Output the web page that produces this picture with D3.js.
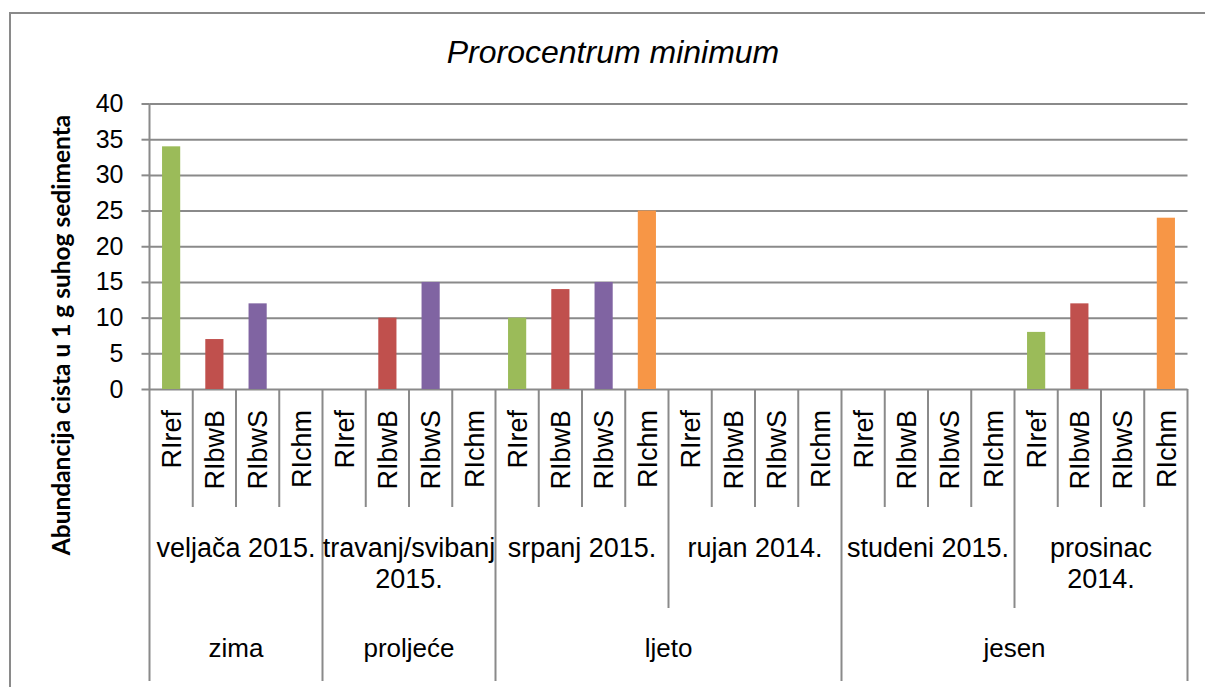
<!DOCTYPE html>
<html>
<head>
<meta charset="utf-8">
<script src="https://cdn.jsdelivr.net/npm/d3@7"></script>
<style>
  body { margin: 0; background: #fff; }
  text { font-family: Arial, "Liberation Sans", sans-serif; fill: #000; }
</style>
</head>
<body>
<svg id="chart" width="1205" height="687"></svg>
<script>
(function() {
    'use strict'

    const title = 'Prorocentrum minimum';
    const yTitle = 'Abundancija cista u 1 g suhog sedimenta';
    const stations = ['RIref', 'RIbwB', 'RIbwS', 'RIchm'];
    const colors = ['#9BBB59', '#C0504D', '#8064A2', '#F79646'];
    // month labels, already split the way the axis wraps them
    const months = [['veljača 2015.'], ['travanj/svibanj', '2015.'], ['srpanj 2015.'],
        ['rujan 2014.'], ['studeni 2015.'], ['prosinac', '2014.']];
    const seasons = ['zima', 'proljeće', 'ljeto', 'jesen'];
    const monthsPerSeason = [1, 1, 2, 2];
    // one row per month, one value per station (RIref, RIbwB, RIbwS, RIchm)
    const values = [
        [34, 7, 12, 0],
        [0, 10, 15, 0],
        [10, 14, 15, 25],
        [0, 0, 0, 0],
        [0, 0, 0, 0],
        [8, 12, 0, 24]
    ];
    const yTicks = [0, 5, 10, 15, 20, 25, 30, 35, 40];

    const svg = d3.select('#chart'),
        margin = { top: 103.5, left: 149.5, right: 1187.5, bottom: 389 },
        width = margin.right - margin.left,
        height = margin.bottom - margin.top,
        grey = '#8a8a8a';

    // flat list of bars
    let bars = [];
    months.forEach((m, mi) => {
        stations.forEach((s, si) => {
            bars.push({ key: mi + '_' + s, station: s, si: si, value: values[mi][si] });
        });
    });

    const x = d3.scaleBand()
        .domain(bars.map((d) => d.key))
        .range([0, width])
        .paddingInner(0.58)
        .paddingOuter(0.29);
    const y = d3.scaleLinear().domain([0, 40]).range([height, 0]);
    const step = x.step();

    // outer chart border
    svg.append('rect')
        .attr('x', 10).attr('y', 13)
        .attr('width', 1220).attr('height', 700)
        .attr('fill', 'none')
        .attr('stroke', grey)
        .attr('stroke-width', 2);

    svg.append('text')
        .attr('x', 613).attr('y', 63)
        .attr('text-anchor', 'middle')
        .style('font-style', 'italic')
        .style('font-size', '32px')
        .text(title);

    svg.append('text')
        .attr('transform', 'translate(61,335)rotate(-90)')
        .attr('text-anchor', 'middle')
        .attr('dy', '0.35em')
        .style('font-family', 'Lato, "Open Sans", sans-serif')
        .style('font-weight', 'bold')
        .style('font-size', '24.5px')
        .text(yTitle);

    const g = svg.append('g')
        .attr('transform', 'translate(' + margin.left + ',' + margin.top + ')');

    // gridlines
    g.append('g')
        .attr('class', 'grid')
        .call(d3.axisLeft(y).tickValues(yTicks).tickSize(-width).tickFormat(''))
        .call((a) => a.select('.domain').remove())
        .selectAll('line')
        .attr('stroke', grey)
        .attr('stroke-width', 2);

    // y axis
    const ya = g.append('g')
        .attr('class', 'axis axis--y')
        .call(d3.axisLeft(y).tickValues(yTicks).tickSize(8).tickPadding(18));
    ya.select('.domain').attr('stroke', grey).attr('stroke-width', 2).attr('d', 'M0,0V' + height);
    ya.selectAll('line').attr('stroke', grey).attr('stroke-width', 2);
    ya.selectAll('text').style('font-size', '25px').style('font-family', 'Arial, "Liberation Sans", sans-serif');

    // bars
    g.selectAll('.bar')
        .data(bars)
        .enter().append('rect')
        .attr('class', 'bar')
        .attr('x', (d) => x(d.key))
        .attr('y', (d) => y(d.value))
        .attr('width', x.bandwidth())
        .attr('height', (d) => height - y(d.value))
        .attr('fill', (d) => colors[d.si]);

    // multi-level category axis: separators
    let seasonEdges = [0];
    monthsPerSeason.forEach((n) => seasonEdges.push(seasonEdges[seasonEdges.length - 1] + n * stations.length));
    const n = bars.length;
    const seps = d3.range(n + 1).map((i) => {
        let len = 118;
        if (i % stations.length === 0) len = 219;
        if (seasonEdges.indexOf(i) >= 0) len = 292;
        return { i: i, len: len };
    });
    g.selectAll('.sep')
        .data(seps)
        .enter().append('line')
        .attr('class', 'sep')
        .attr('x1', (d) => d.i * step)
        .attr('x2', (d) => d.i * step)
        .attr('y1', height)
        .attr('y2', (d) => height + d.len)
        .attr('stroke', grey)
        .attr('stroke-width', 2);

    // station labels (rotated)
    g.selectAll('.station')
        .data(bars)
        .enter().append('text')
        .attr('class', 'station')
        .attr('transform', (d) => 'translate(' + (x(d.key) + x.bandwidth() / 2) + ',' + (height + 21) + ')rotate(-90)')
        .attr('text-anchor', 'end')
        .attr('dy', '0.36em')
        .style('font-size', '27px')
        .text((d) => d.station);

    // month labels
    const mg = g.selectAll('.month')
        .data(months)
        .enter().append('text')
        .attr('class', 'month')
        .attr('text-anchor', 'middle')
        .style('font-size', '27px');
    mg.selectAll('tspan')
        .data((d, i) => d.map((line) => ({ line: line, mi: i })))
        .enter().append('tspan')
        .attr('x', (d) => (d.mi * stations.length + stations.length / 2) * step)
        .attr('y', (d, j) => height + 168 + j * 31)
        .text((d) => d.line);

    // season labels
    g.selectAll('.season')
        .data(seasons)
        .enter().append('text')
        .attr('class', 'season')
        .attr('text-anchor', 'middle')
        .attr('x', (d, i) => (seasonEdges[i] + seasonEdges[i + 1]) / 2 * step)
        .attr('y', height + 268)
        .style('font-size', '26px')
        .text((d) => d);
})();
</script>
</body>
</html>
